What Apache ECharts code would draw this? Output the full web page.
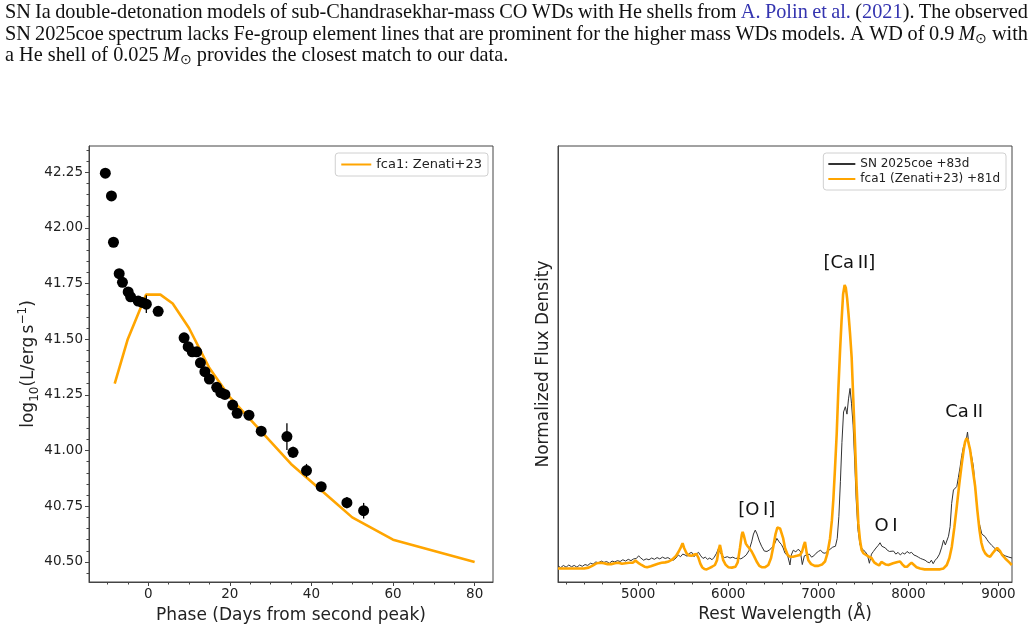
<!DOCTYPE html>
<html><head><meta charset="utf-8">
<script src="https://cdn.jsdelivr.net/npm/echarts@6/dist/echarts.min.js"></script>
<style>html,body{margin:0;padding:0;background:#fff;} #c{width:1035px;height:633px;}</style>
</head><body><div id="c"></div>
<script>
// ---------- Left panel: light curve ----------
const obsPhase = [-10.5,-9.0,-8.5,-7.1,-6.3,-4.9,-4.3,-2.45,-1.45,-0.45,2.45,8.8,9.8,10.8,11.9,12.8,13.9,15.0,16.8,17.8,18.8,20.7,21.8,24.7,27.7,34.0,35.5,38.8,42.4,48.7,52.8];
const obsLogL = [42.245,42.143,41.935,41.794,41.755,41.712,41.690,41.671,41.665,41.657,41.625,41.506,41.466,41.443,41.443,41.394,41.354,41.321,41.284,41.260,41.252,41.204,41.167,41.159,41.087,41.063,40.992,40.910,40.838,40.766,40.730];
const obsLogLErr = [0.015,0.01,0.01,0.01,0.01,0.01,0.01,0.01,0.01,0.04,0.01,0.01,0.01,0.01,0.01,0.01,0.01,0.01,0.01,0.01,0.01,0.01,0.01,0.01,0.01,0.06,0.025,0.03,0.01,0.025,0.035];
const modelPhase = [-8.2,-5,-0.5,3,6,10,15,20,25,30,35,40,45,50,60,80];
const modelLogL = [41.30,41.50,41.70,41.70,41.66,41.55,41.37,41.24,41.14,41.04,40.94,40.86,40.78,40.70,40.60,40.50];
const leftXTicks = [0,20,40,60,80];
const leftYTicks = [40.50,40.75,41.00,41.25,41.50,41.75,42.00,42.25];
const leftLegendName = 'fca1: Zenati+23';

// ---------- Right panel: nebular spectrum ----------
const obsWave = [4110,4140,4170,4200,4230,4260,4290,4320,4350,4380,4410,4440,4470,4500,4530,4560,4590,4620,4650,4680,4710,4740,4770,4800,4830,4860,4890,4920,4950,4980,5005,5030,5060,5090,5120,5150,5180,5210,5240,5270,5300,5330,5360,5390,5420,5445,5470,5495,5520,5545,5570,5595,5620,5645,5670,5695,5720,5745,5770,5795,5820,5845,5870,5890,5910,5935,5960,5990,6020,6050,6080,6110,6140,6170,6200,6230,6260,6280,6300,6320,6345,6370,6400,6430,6460,6490,6515,6540,6565,6590,6610,6630,6660,6685,6700,6722,6750,6775,6800,6822,6845,6870,6900,6925,6950,6975,7000,7025,7050,7075,7100,7130,7160,7190,7210,7228,7245,7262,7280,7300,7318,7335,7352,7368,7386,7403,7420,7440,7463,7490,7519,7545,7567,7590,7611,7640,7665,7685,7705,7725,7745,7765,7790,7810,7835,7860,7885,7910,7935,7960,7985,8010,8035,8060,8085,8110,8135,8160,8185,8210,8235,8255,8275,8297,8320,8345,8370,8390,8410,8426,8445,8463,8480,8500,8520,8537,8555,8574,8592,8611,8630,8645,8656,8670,8685,8700,8722,8740,8760,8780,8796,8815,8835,8852,8870,8890,8907,8925,8945,8965,8981,9000,9020,9040,9056,9075,9095,9115,9135,9150];
const obsFlux = [.037,.033,.038,.034,.039,.035,.038,.034,.039,.036,.040,.038,.043,.041,.046,.044,.048,.045,.047,.043,.048,.046,.049,.047,.051,.048,.052,.049,.053,.054,.060,.055,.050,.053,.051,.055,.052,.056,.053,.057,.054,.056,.052,.050,.055,.062,.058,.064,.062,.059,.066,.068,.058,.064,.068,.060,.054,.057,.052,.055,.051,.057,.066,.076,.068,.060,.056,.058,.055,.057,.054,.055,.053,.057,.062,.072,.092,.110,.119,.110,.094,.082,.071,.070,.074,.080,.088,.100,.092,.086,.078,.066,.060,.039,.062,.073,.069,.075,.071,.040,.060,.062,.064,.057,.060,.066,.070,.073,.067,.066,.070,.075,.080,.082,.100,.150,.230,.320,.390,.402,.385,.420,.444,.410,.360,.280,.190,.120,.085,.075,.070,.062,.043,.064,.070,.078,.084,.090,.082,.086,.078,.073,.070,.066,.071,.064,.068,.062,.067,.064,.070,.066,.068,.062,.060,.057,.054,.052,.050,.046,.044,.050,.042,.050,.055,.064,.080,.096,.085,.081,.105,.127,.180,.211,.215,.219,.240,.264,.290,.310,.320,.330,.344,.318,.303,.290,.264,.220,.173,.140,.127,.110,.112,.104,.098,.092,.089,.084,.080,.076,.073,.070,.068,.064,.066,.060,.062,.057,.058,.055];
const modelWave = [4110,4200,4300,4400,4450,4500,4540,4580,4620,4660,4700,4740,4780,4820,4860,4900,4940,4970,5000,5037,5070,5100,5140,5180,5220,5260,5300,5340,5380,5420,5450,5475,5493,5510,5537,5565,5593,5620,5648,5670,5690,5710,5735,5760,5790,5820,5852,5875,5895,5908,5925,5944,5970,6000,6040,6080,6105,6130,6150,6160,6175,6195,6215,6240,6260,6285,6315,6345,6371,6410,6445,6475,6500,6525,6545,6560,6575,6593,6610,6630,6660,6685,6720,6760,6797,6820,6840,6852,6870,6889,6920,6960,7000,7040,7074,7100,7130,7150,7167,7185,7204,7222,7241,7258,7275,7292,7305,7320,7335,7352,7370,7388,7407,7425,7444,7463,7481,7500,7530,7560,7590,7620,7648,7675,7700,7722,7750,7778,7800,7830,7852,7880,7907,7935,7960,7985,8010,8035,8056,8090,8130,8180,8240,8300,8352,8390,8426,8455,8482,8510,8537,8565,8593,8615,8630,8645,8660,8685,8710,8741,8765,8789,8810,8830,8852,8880,8907,8935,8963,8985,9000,9020,9040,9056,9075,9093,9120,9148];
const modelFlux = [.031,.031,.031,.031,.033,.038,.043,.044,.043,.041,.041,.043,.044,.042,.043,.044,.044,.049,.044,.039,.035,.034,.036,.039,.042,.044,.045,.047,.052,.060,.070,.080,.089,.078,.066,.061,.060,.063,.064,.055,.042,.034,.030,.029,.032,.035,.039,.050,.075,.085,.068,.050,.040,.034,.033,.035,.045,.078,.108,.115,.105,.088,.082,.076,.070,.060,.047,.037,.034,.034,.039,.055,.081,.110,.125,.122,.123,.119,.100,.078,.062,.058,.058,.060,.062,.070,.085,.092,.068,.050,.041,.037,.037,.040,.047,.065,.10,.14,.19,.26,.34,.44,.53,.60,.66,.681,.675,.650,.615,.570,.515,.420,.320,.220,.135,.095,.073,.066,.062,.058,.055,.045,.041,.038,.046,.047,.040,.039,.038,.043,.044,.046,.047,.040,.035,.035,.040,.044,.043,.034,.031,.029,.029,.029,.029,.031,.039,.055,.081,.125,.173,.225,.272,.305,.322,.330,.325,.303,.265,.219,.165,.119,.090,.075,.066,.060,.058,.066,.073,.078,.077,.070,.062,.058,.054,.050,.045,.039];
const lineLabels = ['[O\u2009I]','[Ca\u2009II]','O\u2009I','Ca\u2009II'];
const lineLabelWave = [6316,7345,7752,8619];
const lineLabelFlux = [0.165,0.731,0.127,0.39];
const rightXTicks = [5000,6000,7000,8000,9000];
const obsName = 'SN 2025coe +83d';
const modelName = 'fca1 (Zenati+23) +81d';

// ---------- Caption ----------
const captionLines = [
  "SN\u2009Ia double-detonation models of sub-Chandrasekhar-mass CO WDs with He shells from {b:A.} {b:Polin} {b:et} {b:al.} ({b:2021}). The observed",
  "SN\u20092025coe spectrum lacks Fe-group element lines that are prominent for the higher mass WDs models. A WD of 0.9\u2009{i:M}{sub:\u2299} with",
  "a He shell of 0.025\u2009{i:M}{sub:\u2299} provides the closest match to our data."
];

// ---------- helpers ----------
const leftXMinor = [], leftYMinor = [], rightXMinor = [];
for (let v = -10; v <= 80; v += 5) if (v % 20 !== 0) leftXMinor.push(v);
for (let k = 809; k <= 847; k++) { const v = k * 0.05; if (k % 5 !== 0) leftYMinor.push(+v.toFixed(2)); }
for (let v = 4200; v <= 9100; v += 200) if (v % 1000 !== 0) rightXMinor.push(v);

const FONT = '"DejaVu Sans", sans-serif';
const AX = '#444', TXT = '#222';

function buildCaption() {
  const fs = 20.3, fam = '"Liberation Serif", serif', blue = '#3434b0';
  const ctx = document.createElement('canvas').getContext('2d');
  const segFont = s => (s.s === 'i' ? 'italic ' : '') + (s.s === 'sub' ? fs * 0.7 : fs) + 'px ' + fam;
  const segW = s => { ctx.font = segFont(s); return ctx.measureText(s.t).width; };
  const x0 = 5, x1 = 1028, ys = [13, 34.5, 55.5];
  const els = [];
  captionLines.forEach((line, li) => {
    const words = line.split(' ').map(w => {
      const segs = []; const re = /\{(\w+):([^}]*)\}|([^{]+)/g; let m;
      while ((m = re.exec(w))) segs.push(m[3] !== undefined ? { s: 'n', t: m[3] } : { s: m[1], t: m[2] });
      return segs;
    });
    const widths = words.map(ws => ws.reduce((a, s) => a + segW(s), 0));
    const total = widths.reduce((a, b) => a + b, 0);
    ctx.font = fs + 'px ' + fam;
    const gap = li < captionLines.length - 1 ? (x1 - x0 - total) / (words.length - 1) : ctx.measureText(' ').width;
    let x = x0;
    words.forEach((ws) => {
      ws.forEach(s => {
        els.push({ type: 'text', x: x, y: ys[li] + (s.s === 'sub' ? 5 : 0), silent: true,
          style: { text: s.t, fill: s.s === 'b' ? blue : '#111', fontFamily: fam, fontStyle: s.s === 'i' ? 'italic' : 'normal',
            fontSize: s.s === 'sub' ? fs * 0.7 : fs, verticalAlign: 'middle', textVerticalAlign: 'middle', align: 'left' } });
        x += segW(s);
      });
      x += gap;
    });
  });
  return els;
}

const chart = echarts.init(document.getElementById('c'), null, { renderer: 'canvas' });

function baseAxis(extra) {
  return Object.assign({ type: 'value', splitLine: { show: false },
    axisLine: { show: true, onZero: false, lineStyle: { color: AX, width: 1 } } }, extra);
}
const noLine = { show: false, onZero: false };

const legendCommon = { orient: 'vertical', itemHeight: 2, borderColor: '#d0d0d0', borderWidth: 1, borderRadius: 3,
  backgroundColor: 'rgba(255,255,255,0.85)', itemStyle: { color: 'rgba(0,0,0,0)', borderWidth: 0, opacity: 0 } };

const option = {
  animation: false,
  backgroundColor: '#fff',
  textStyle: { fontFamily: FONT },
  graphic: buildCaption(),
  grid: [
    { left: 89, top: 146, width: 404, height: 436, show: true, borderColor: AX, borderWidth: 1, backgroundColor: 'transparent' },
    { left: 558, top: 146, width: 454, height: 436, show: true, borderColor: AX, borderWidth: 1, backgroundColor: 'transparent' }
  ],
  xAxis: [
    baseAxis({ gridIndex: 0, min: -14.5, max: 84.5, position: 'bottom',
      axisTick: { show: true, inside: false, length: 4, customValues: leftXTicks, lineStyle: { color: AX } },
      axisLabel: { customValues: leftXTicks, margin: 5, fontSize: 13.5, color: TXT, fontFamily: FONT, formatter: v => String(v) },
      name: 'Phase (Days from second peak)', nameLocation: 'middle', nameGap: 25,
      nameTextStyle: { fontSize: 17, color: TXT, fontFamily: FONT } }),
    baseAxis({ gridIndex: 0, min: -14.5, max: 84.5, position: 'bottom', axisLine: noLine,
      axisTick: { show: true, inside: false, length: 2.5, customValues: leftXMinor, lineStyle: { color: AX } },
      axisLabel: { show: false } }),
    baseAxis({ gridIndex: 1, min: 4110, max: 9150, position: 'bottom',
      axisTick: { show: true, inside: false, length: 4, customValues: rightXTicks, lineStyle: { color: AX } },
      axisLabel: { customValues: rightXTicks, margin: 5, fontSize: 13.5, color: TXT, fontFamily: FONT, formatter: v => String(v) },
      name: 'Rest Wavelength (\u00C5)', nameLocation: 'middle', nameGap: 24,
      nameTextStyle: { fontSize: 17, color: TXT, fontFamily: FONT } }),
    baseAxis({ gridIndex: 1, min: 4110, max: 9150, position: 'bottom', axisLine: noLine,
      axisTick: { show: true, inside: false, length: 2.5, customValues: rightXMinor, lineStyle: { color: AX } },
      axisLabel: { show: false } })
  ],
  yAxis: [
    baseAxis({ gridIndex: 0, min: 40.41, max: 42.367, position: 'left',
      axisTick: { show: true, inside: false, length: 4, customValues: leftYTicks, lineStyle: { color: AX } },
      axisLabel: { customValues: leftYTicks, margin: 6, fontSize: 13.5, color: TXT, fontFamily: FONT, formatter: v => v.toFixed(2) },
      name: '{m|log}{s|10}{m|(L/erg\u2009s}{p|\u22121}{m|)}', nameLocation: 'middle', nameGap: 47, nameRotate: 90,
      nameTextStyle: { fontSize: 17, color: TXT, fontFamily: FONT,
        rich: { m: { fontSize: 17, lineHeight: 24, color: TXT, fontFamily: FONT, verticalAlign: 'middle' },
                s: { fontSize: 12, lineHeight: 12, color: TXT, fontFamily: FONT, verticalAlign: 'bottom' },
                p: { fontSize: 12, lineHeight: 12, color: TXT, fontFamily: FONT, verticalAlign: 'top' } } } }),
    baseAxis({ gridIndex: 0, min: 40.41, max: 42.367, position: 'left', axisLine: noLine,
      axisTick: { show: true, inside: false, length: 2.5, customValues: leftYMinor, lineStyle: { color: AX } },
      axisLabel: { show: false } }),
    baseAxis({ gridIndex: 1, min: 0, max: 1, position: 'left',
      axisTick: { show: false }, axisLabel: { show: false },
      name: 'Normalized Flux Density', nameLocation: 'middle', nameGap: 6, nameRotate: 90,
      nameTextStyle: { fontSize: 17, color: TXT, fontFamily: FONT } })
  ],
  legend: [
    Object.assign({}, legendCommon, { data: [leftLegendName], right: 547, top: 153, itemWidth: 30,
      padding: [5, 6, 5, 5], textStyle: { fontSize: 13, color: TXT, fontFamily: FONT } }),
    Object.assign({}, legendCommon, { data: [obsName, modelName], right: 29, top: 153, itemWidth: 27, itemGap: 3,
      padding: [5, 6, 5, 4], textStyle: { fontSize: 12, color: TXT, fontFamily: FONT } })
  ],
  series: [
    { name: leftLegendName, type: 'line', xAxisIndex: 0, yAxisIndex: 0, symbol: 'none', showSymbol: false,
      data: modelPhase.map((x, i) => [x, modelLogL[i]]), color: '#FFA500',
      lineStyle: { color: '#FFA500', width: 2.6 }, z: 2 },
    { name: 'errors', type: 'custom', xAxisIndex: 0, yAxisIndex: 0, silent: true, z: 3,
      data: obsPhase.map((x, i) => [x, obsLogL[i], obsLogLErr[i]]), encode: { x: 0, y: 1 },
      renderItem: (params, api) => {
        const x = api.value(0), y = api.value(1), e = api.value(2);
        const a = api.coord([x, y - e]), b = api.coord([x, y + e]);
        return { type: 'line', shape: { x1: a[0], y1: a[1], x2: b[0], y2: b[1] }, style: { stroke: '#000', lineWidth: 1.3 } };
      } },
    { name: 'obs', type: 'scatter', xAxisIndex: 0, yAxisIndex: 0, symbol: 'circle', symbolSize: 11, z: 4,
      data: obsPhase.map((x, i) => [x, obsLogL[i]]), itemStyle: { color: '#000', opacity: 1 }, silent: true },
    { name: obsName, type: 'line', xAxisIndex: 2, yAxisIndex: 2, symbol: 'none', showSymbol: false,
      data: obsWave.map((x, i) => [x, obsFlux[i]]), color: '#333',
      lineStyle: { color: '#333', width: 1 }, z: 2 },
    { name: modelName, type: 'line', xAxisIndex: 2, yAxisIndex: 2, symbol: 'none', showSymbol: false,
      data: modelWave.map((x, i) => [x, modelFlux[i]]), color: '#FFA500',
      lineStyle: { color: '#FFA500', width: 2.6 }, z: 3 },
    { name: 'lineIds', type: 'scatter', xAxisIndex: 2, yAxisIndex: 2, symbolSize: 0, silent: true, z: 5,
      itemStyle: { opacity: 1 },
      data: lineLabels.map((t, i) => [lineLabelWave[i], lineLabelFlux[i], t]), encode: { x: 0, y: 1 },
      label: { show: true, position: 'inside', formatter: p => p.value[2], fontSize: 18, color: '#111', opacity: 1, fontFamily: FONT } }
  ]
};
chart.setOption(option);
</script></body></html>
